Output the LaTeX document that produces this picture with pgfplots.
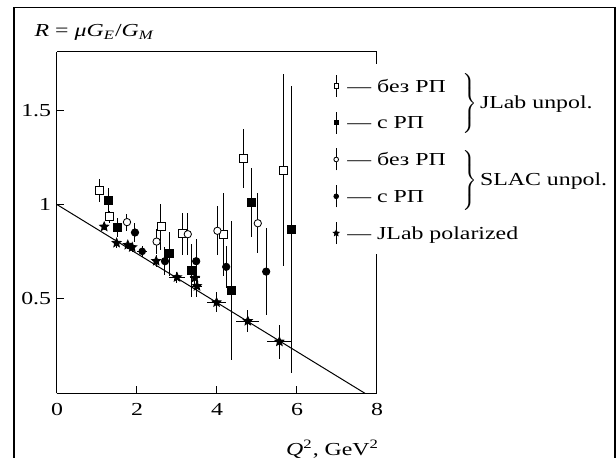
\documentclass[border=0pt]{standalone}
\usepackage{fontspec}
\setmainfont{Liberation Serif}
\usepackage{graphicx}
\usepackage{pgfplots}
\pgfplotsset{compat=1.18}

% filled five-pointed star
\pgfdeclareplotmark{fstar}{%
  \pgfpathmoveto{\pgfpointpolar{90}{\pgfplotmarksize}}%
  \pgfpathlineto{\pgfpointpolar{126}{0.45*\pgfplotmarksize}}%
  \pgfpathlineto{\pgfpointpolar{162}{\pgfplotmarksize}}%
  \pgfpathlineto{\pgfpointpolar{198}{0.45*\pgfplotmarksize}}%
  \pgfpathlineto{\pgfpointpolar{234}{\pgfplotmarksize}}%
  \pgfpathlineto{\pgfpointpolar{270}{0.45*\pgfplotmarksize}}%
  \pgfpathlineto{\pgfpointpolar{306}{\pgfplotmarksize}}%
  \pgfpathlineto{\pgfpointpolar{342}{0.45*\pgfplotmarksize}}%
  \pgfpathlineto{\pgfpointpolar{18}{\pgfplotmarksize}}%
  \pgfpathlineto{\pgfpointpolar{54}{0.45*\pgfplotmarksize}}%
  \pgfpathclose
  \pgfusepathqfillstroke
}

\pgfplotsset{
  pt/.style={only marks, black, line width=0.5pt,
    error bars/y dir=both, error bars/y explicit, error bars/error mark=none,
    error bars/error bar style={line width=0.6pt, black}},
}

\newcommand{\fs}{\fontsize{11}{13}\selectfont}
% the lettering of the reference is set wide
\newcommand{\w}[1]{\scalebox{1.3}[1]{#1}}
\newcommand{\legtext}[1]{\strut\w{#1}}

\begin{document}
\begin{tikzpicture}
\useasboundingbox (-34.2pt,-38.2pt) rectangle (335.4pt,236pt);
% outer frame
\draw[line width=0.7pt] (-25.8pt,-50pt) -- (-25.8pt,231.6pt) -- (334.8pt,231.6pt) -- (334.8pt,-50pt);
\begin{axis}[
  scale only axis, width=192pt, height=205pt,
  xmin=0, xmax=8, ymin=0, ymax=1.81,
  xtick={0,2,4,6,8}, ytick={0.5,1,1.5},
  axis x line*=box, axis y line*=left,
  axis line style={-, line width=0.6pt},
  tick align=inside, major tick length=4.4pt,
  xtick pos=bottom, ytick pos=left,
  tick style={line width=0.6pt, black},
  /pgf/number format/assume math mode=true,
  xticklabel={\w{\pgfmathprintnumber{\tick}}},
  yticklabel={\w{\pgfmathprintnumber{\tick}}},
  xticklabel style={yshift=-2.5pt},
  font=\fs,
  clip=false,
  ylabel={\w{\textit{R} = \textit{μG}\textsubscript{\textit{E}}/\textit{G}\textsubscript{\textit{M}}}},
  xlabel={\w{\textit{Q}\textsuperscript{2}, GeV\textsuperscript{2}}},
  every axis y label/.style={at={(axis description cs:-0.088,1.055)}, anchor=west},
  every axis x label/.style={at={(axis description cs:1.025,-0.163)}, anchor=east},
  legend cell align=left,
  legend style={at={(axis description cs:0.847,0.962)}, anchor=north west,
    draw=none, fill=white, inner xsep=3pt, inner ysep=5.2pt, row sep=7.5pt,
    font=\fs, /tikz/every odd column/.append style={column sep=3pt}},
  legend image code/.code={%
    \draw[black, line width=0.6pt] (0pt,-6.6pt) -- (0pt,6.6pt);
    \draw[#1] plot coordinates {(0pt,0pt)};
  },
]
% linear fit
\addplot[black, line width=0.6pt, no marks, forget plot] coordinates {(0,1) (7.7,0)};

% JLab unpolarized, without radiative corrections
\addplot[pt, mark=square*, mark size=2.4pt, mark options={fill=white},
  legend image post style={mark size=1.3pt}] table[x=x, y=y, y error=ey] {
x    y     ey
1.06 1.073 0.062
1.31 0.935 0.030
2.60 0.882 0.120
3.14 0.845 0.110
4.17 0.840 0.220
4.66 1.244 0.157
5.67 1.182 0.510
};
\addlegendentry{\legtext{— без РП}}

% JLab unpolarized, with radiative corrections
\addplot[pt, mark=square*, mark size=2.4pt, mark options={fill=black},
  legend image post style={mark size=1.3pt}] table[x=x, y=y, y error=ey] {
x    y     ey
1.28 1.021 0.066
1.52 0.879 0.050
2.82 0.739 0.116
3.36 0.652 0.140
4.37 0.544 0.370
4.87 1.011 0.185
5.86 0.866 0.760
};
\addlegendentry{\legtext{— с РП}}

% SLAC unpolarized, without radiative corrections
\addplot[pt, mark=*, mark size=2.2pt, mark options={fill=white},
  legend image post style={mark size=1.4pt}] table[x=x, y=y, y error=ey] {
x    y     ey
1.75 0.907 0.045
2.49 0.804 0.065
3.27 0.843 0.110
4.01 0.861 0.130
5.02 0.901 0.160
};
\addlegendentry{\legtext{— без РП}}

% SLAC unpolarized, with radiative corrections
\addplot[pt, mark=*, mark size=2.2pt, mark options={fill=black},
  legend image post style={mark size=1.4pt}] table[x=x, y=y, y error=ey] {
x    y     ey
1.95 0.852 0.048
2.70 0.700 0.075
3.48 0.700 0.120
4.23 0.670 0.110
5.23 0.645 0.230
};
\addlegendentry{\legtext{— с РП}}

% JLab polarization transfer
\addplot[pt, mark=fstar, mark size=2.8pt, mark options={fill=black},
  error bars/x dir=both, error bars/x explicit,
  legend image post style={mark size=1.8pt}] table[x=x, y=y, x error=ex, y error=ey] {
x    y     ex   ey
1.18 0.883 0.03 0.020
1.49 0.797 0.04 0.025
1.77 0.786 0.04 0.020
1.88 0.774 0.05 0.025
2.48 0.701 0.05 0.030
3.00 0.615 0.20 0.030
3.45 0.612 0.12 0.050
3.50 0.568 0.12 0.060
3.99 0.482 0.23 0.053
4.77 0.383 0.29 0.058
5.56 0.274 0.31 0.090
};
\addlegendentry{\legtext{— JLab polarized}}

% point shown by its error cross only
\addplot[pt, no marks, forget plot, error bars/x dir=both, error bars/x explicit]
  table[x=x, y=y, x error=ex, y error=ey] {
x    y     ex   ey
2.13 0.752 0.12 0.030
};

% right border, broken where the legend stands
\draw[line width=0.6pt] (rel axis cs:1,1) -- (rel axis cs:1,0.964);
\draw[line width=0.6pt] (rel axis cs:1,0.411) -- (rel axis cs:1,0);

\coordinate (bJ) at (axis description cs:1.259,0.848);
\coordinate (bS) at (axis description cs:1.259,0.623);
\end{axis}
\node[anchor=west, inner sep=0pt, font=\fs] at (bJ)
  {$\left.\vrule height 19pt depth 14pt width 0pt\right\}$\,\w{JLab unpol.}};
\node[anchor=west, inner sep=0pt, font=\fs] at (bS)
  {$\left.\vrule height 19pt depth 14pt width 0pt\right\}$\,\w{SLAC unpol.}};
\end{tikzpicture}
\end{document}
